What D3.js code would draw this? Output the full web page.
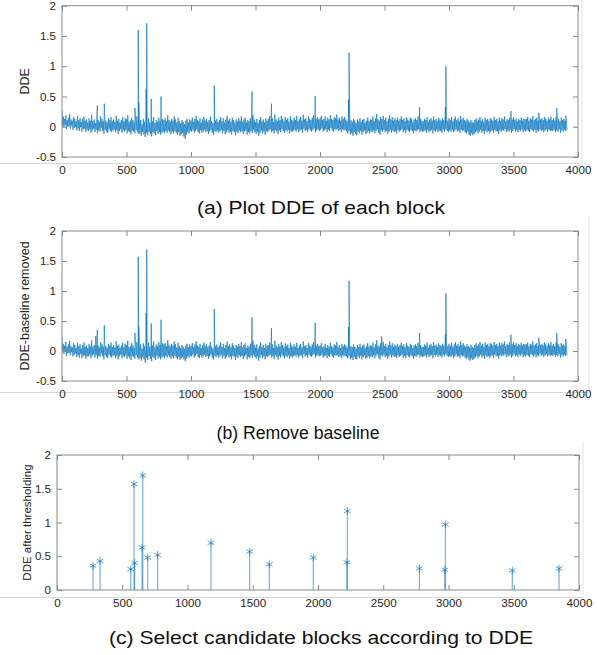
<!DOCTYPE html>
<html><head><meta charset="utf-8">
<script src="https://cdn.jsdelivr.net/npm/d3@7"></script>
<style>body{margin:0;background:#fff} svg{display:block;font-family:"Liberation Sans",Arial,Helvetica,sans-serif}</style>
</head><body><svg id="c" width="597" height="655"></svg>
<script>
// ---------- data ----------
const xTicks = [0, 500, 1000, 1500, 2000, 2500, 3000, 3500, 4000];
const yTicksAB = [-0.5, 0, 0.5, 1, 1.5, 2];
const yTicksC = [0, 0.5, 1, 1.5, 2];
const binStep = 10; // the dense noise is read as a high and a low value per 10 blocks
// panel (a): upper / lower excursions of the noise band per bin
const hiA = [
0.28,0.17,0.13,0.19,0.11,0.15,0.21,0.12,0.10,0.16,0.13,0.09,0.18,0.11,0.14,0.08,0.13,0.17,0.10,0.12,
0.07,0.14,0.10,0.20,0.09,0.12,0.06,0.15,0.11,0.08,0.17,0.13,0.09,0.22,0.10,0.07,0.14,0.11,0.16,0.09,
0.12,0.08,0.18,0.10,0.13,0.07,0.11,0.16,0.09,0.14,0.12,0.19,0.08,0.10,0.15,0.11,0.07,0.13,0.17,0.09,
0.06,0.11,0.04,0.13,0.08,0.05,0.10,0.14,0.07,0.12,0.09,0.16,0.06,0.11,0.08,0.15,0.10,0.07,0.13,0.11,
0.14,0.09,0.19,0.11,0.08,0.13,0.10,0.17,0.12,0.07,0.15,0.09,0.06,0.11,0.08,0.04,0.10,0.13,0.07,0.12,
0.10,0.15,0.08,0.13,0.18,0.11,0.09,0.14,0.07,0.12,0.16,0.10,0.13,0.08,0.11,0.17,0.09,0.06,0.12,0.10,
0.13,0.08,0.11,0.16,0.09,0.14,0.07,0.12,0.18,0.10,0.13,0.08,0.15,0.11,0.07,0.12,0.09,0.14,0.10,0.17,
0.08,0.12,0.15,0.07,0.11,0.09,0.14,0.10,0.19,0.12,0.08,0.13,0.06,0.11,0.16,0.09,0.12,0.07,0.14,0.10,
0.13,0.17,0.10,0.14,0.08,0.20,0.12,0.09,0.15,0.11,0.18,0.13,0.09,0.16,0.11,0.14,0.08,0.17,0.12,0.10,
0.15,0.11,0.18,0.09,0.13,0.16,0.10,0.20,0.12,0.14,0.09,0.17,0.13,0.11,0.15,0.19,0.10,0.13,0.16,0.12,
0.14,0.18,0.11,0.13,0.17,0.10,0.15,0.12,0.19,0.13,0.11,0.16,0.14,0.20,0.12,0.15,0.10,0.17,0.13,0.16,
0.12,0.09,0.15,0.07,0.11,0.08,0.13,0.10,0.06,0.12,0.09,0.14,0.08,0.11,0.13,0.07,0.10,0.15,0.09,0.12,
0.11,0.17,0.09,0.14,0.21,0.12,0.10,0.16,0.13,0.18,0.11,0.15,0.09,0.13,0.19,0.12,0.16,0.10,0.14,0.11,
0.15,0.10,0.13,0.17,0.11,0.14,0.09,0.16,0.12,0.10,0.15,0.13,0.08,0.12,0.14,0.11,0.17,0.09,0.13,0.10,
0.09,0.13,0.11,0.16,0.08,0.12,0.14,0.10,0.17,0.11,0.13,0.09,0.15,0.12,0.10,0.14,0.11,0.18,0.12,0.10,
0.14,0.11,0.16,0.09,0.13,0.17,0.11,0.14,0.10,0.18,0.12,0.15,0.11,0.09,0.13,0.10,0.07,0.11,0.08,0.06,
0.11,0.14,0.09,0.12,0.16,0.10,0.13,0.08,0.15,0.11,0.13,0.09,0.14,0.12,0.10,0.16,0.11,0.13,0.09,0.15,
0.10,0.14,0.12,0.17,0.09,0.13,0.11,0.15,0.10,0.12,0.16,0.11,0.14,0.09,0.13,0.11,0.15,0.10,0.13,0.12,
0.13,0.16,0.10,0.14,0.12,0.18,0.11,0.13,0.15,0.10,0.17,0.12,0.14,0.11,0.16,0.13,0.10,0.15,0.12,0.17,
0.11,0.14,0.10,0.16,0.12,0.13,0.09,0.15,0.11,0.13,0.10,0.12
];
const loA = [
0.02,-0.01,0.03,-0.04,0.00,0.01,-0.03,0.02,-0.05,-0.02,0.00,-0.06,-0.03,-0.07,-0.01,-0.08,-0.04,-0.03,-0.09,-0.05,
-0.07,-0.04,-0.10,-0.06,-0.03,-0.09,-0.05,-0.11,-0.06,-0.08,-0.02,-0.07,-0.12,-0.05,-0.08,-0.10,-0.04,-0.07,-0.09,-0.06,
-0.05,-0.09,-0.06,-0.12,-0.07,-0.04,-0.10,-0.06,-0.08,-0.05,-0.11,-0.07,-0.09,-0.13,-0.06,-0.08,-0.11,-0.05,-0.09,-0.12,
-0.11,-0.15,-0.09,-0.13,-0.17,-0.10,-0.14,-0.08,-0.12,-0.16,-0.09,-0.11,-0.14,-0.07,-0.12,-0.09,-0.13,-0.10,-0.08,-0.11,
-0.07,-0.10,-0.06,-0.09,-0.12,-0.08,-0.11,-0.07,-0.10,-0.13,-0.09,-0.15,-0.12,-0.10,-0.16,-0.20,-0.13,-0.09,-0.11,-0.07,
-0.08,-0.05,-0.10,-0.07,-0.04,-0.09,-0.11,-0.06,-0.10,-0.08,-0.05,-0.09,-0.07,-0.12,-0.08,-0.05,-0.10,-0.13,-0.07,-0.09,
-0.06,-0.10,-0.08,-0.05,-0.11,-0.07,-0.12,-0.09,-0.06,-0.10,-0.08,-0.13,-0.07,-0.09,-0.14,-0.08,-0.11,-0.06,-0.09,-0.07,
-0.12,-0.08,-0.06,-0.13,-0.09,-0.11,-0.07,-0.10,-0.05,-0.09,-0.12,-0.08,-0.15,-0.10,-0.06,-0.11,-0.08,-0.13,-0.07,-0.09,
-0.06,-0.04,-0.09,-0.07,-0.11,-0.05,-0.08,-0.12,-0.06,-0.09,-0.04,-0.07,-0.10,-0.06,-0.08,-0.05,-0.11,-0.07,-0.09,-0.06,
-0.05,-0.08,-0.04,-0.09,-0.06,-0.05,-0.10,-0.03,-0.07,-0.05,-0.09,-0.04,-0.06,-0.08,-0.05,-0.03,-0.09,-0.06,-0.04,-0.07,
-0.05,-0.03,-0.08,-0.06,-0.04,-0.09,-0.05,-0.07,-0.02,-0.06,-0.08,-0.04,-0.05,-0.03,-0.07,-0.05,-0.09,-0.04,-0.06,-0.05,
-0.08,-0.11,-0.07,-0.13,-0.10,-0.15,-0.09,-0.12,-0.14,-0.08,-0.11,-0.07,-0.13,-0.09,-0.06,-0.12,-0.10,-0.07,-0.11,-0.08,
-0.09,-0.06,-0.11,-0.07,-0.04,-0.10,-0.13,-0.06,-0.08,-0.05,-0.09,-0.07,-0.12,-0.08,-0.05,-0.10,-0.06,-0.09,-0.07,-0.11,
-0.05,-0.08,-0.06,-0.04,-0.09,-0.06,-0.10,-0.05,-0.07,-0.09,-0.05,-0.07,-0.11,-0.06,-0.08,-0.05,-0.04,-0.09,-0.06,-0.08,
-0.08,-0.06,-0.10,-0.05,-0.09,-0.07,-0.05,-0.11,-0.06,-0.08,-0.05,-0.09,-0.06,-0.07,-0.10,-0.05,-0.08,-0.04,-0.07,-0.09,
-0.06,-0.08,-0.05,-0.09,-0.07,-0.04,-0.08,-0.06,-0.10,-0.05,-0.07,-0.06,-0.09,-0.11,-0.08,-0.13,-0.15,-0.11,-0.14,-0.12,
-0.09,-0.07,-0.11,-0.08,-0.05,-0.10,-0.07,-0.12,-0.06,-0.09,-0.07,-0.11,-0.08,-0.06,-0.10,-0.05,-0.08,-0.07,-0.12,-0.06,
-0.08,-0.05,-0.07,-0.04,-0.09,-0.06,-0.08,-0.05,-0.10,-0.07,-0.04,-0.08,-0.06,-0.09,-0.05,-0.07,-0.04,-0.09,-0.06,-0.08,
-0.05,-0.07,-0.09,-0.04,-0.06,-0.08,-0.05,-0.10,-0.06,-0.08,-0.04,-0.07,-0.05,-0.09,-0.06,-0.04,-0.08,-0.05,-0.07,-0.06,
-0.07,-0.05,-0.09,-0.06,-0.08,-0.04,-0.10,-0.06,-0.08,-0.05,-0.07,-0.06
];
// panel (b): baseline removed
const hiB = [
0.24,0.12,0.09,0.15,0.07,0.11,0.17,0.08,0.06,0.13,0.10,0.05,0.14,0.08,0.11,0.04,0.10,0.14,0.07,0.09,
0.05,0.12,0.08,0.18,0.07,0.10,0.04,0.13,0.09,0.06,0.15,0.11,0.07,0.20,0.08,0.05,0.12,0.09,0.14,0.07,
0.10,0.06,0.16,0.08,0.11,0.05,0.09,0.14,0.07,0.12,0.10,0.17,0.06,0.08,0.13,0.09,0.05,0.11,0.15,0.07,
0.06,0.11,0.04,0.13,0.08,0.05,0.10,0.14,0.07,0.12,0.09,0.16,0.06,0.11,0.08,0.15,0.10,0.07,0.13,0.11,
0.13,0.08,0.18,0.10,0.07,0.12,0.09,0.16,0.11,0.06,0.14,0.08,0.05,0.10,0.07,0.04,0.09,0.12,0.06,0.11,
0.08,0.13,0.06,0.11,0.16,0.09,0.07,0.12,0.05,0.10,0.14,0.08,0.11,0.06,0.09,0.15,0.07,0.04,0.10,0.08,
0.11,0.06,0.09,0.14,0.07,0.12,0.05,0.10,0.16,0.08,0.11,0.06,0.13,0.09,0.05,0.10,0.07,0.12,0.08,0.15,
0.06,0.10,0.13,0.05,0.09,0.07,0.12,0.08,0.17,0.10,0.06,0.11,0.04,0.09,0.14,0.07,0.10,0.05,0.12,0.08,
0.10,0.14,0.07,0.11,0.05,0.17,0.09,0.06,0.12,0.08,0.15,0.10,0.06,0.13,0.08,0.11,0.05,0.14,0.09,0.07,
0.11,0.07,0.14,0.05,0.09,0.12,0.06,0.16,0.08,0.10,0.05,0.13,0.09,0.07,0.11,0.15,0.06,0.09,0.12,0.08,
0.09,0.13,0.06,0.08,0.12,0.05,0.10,0.07,0.14,0.08,0.06,0.11,0.09,0.15,0.07,0.10,0.05,0.12,0.08,0.11,
0.09,0.06,0.12,0.05,0.08,0.06,0.11,0.07,0.04,0.10,0.07,0.12,0.06,0.09,0.11,0.05,0.08,0.13,0.07,0.10,
0.08,0.14,0.06,0.11,0.18,0.09,0.07,0.13,0.10,0.15,0.08,0.12,0.06,0.10,0.16,0.09,0.13,0.07,0.11,0.08,
0.12,0.07,0.10,0.14,0.08,0.11,0.06,0.13,0.09,0.07,0.12,0.10,0.05,0.09,0.11,0.08,0.14,0.06,0.10,0.07,
0.07,0.11,0.09,0.14,0.06,0.10,0.12,0.08,0.15,0.09,0.11,0.07,0.13,0.10,0.08,0.12,0.09,0.16,0.10,0.08,
0.12,0.09,0.14,0.07,0.11,0.15,0.09,0.12,0.08,0.16,0.10,0.13,0.09,0.07,0.11,0.08,0.06,0.10,0.07,0.05,
0.10,0.13,0.08,0.11,0.15,0.09,0.12,0.07,0.14,0.10,0.12,0.08,0.13,0.11,0.09,0.15,0.10,0.12,0.08,0.14,
0.09,0.13,0.11,0.16,0.08,0.12,0.10,0.14,0.09,0.11,0.15,0.10,0.13,0.08,0.12,0.10,0.14,0.09,0.12,0.11,
0.11,0.14,0.08,0.12,0.10,0.16,0.09,0.11,0.13,0.08,0.15,0.10,0.12,0.09,0.14,0.11,0.08,0.13,0.10,0.15,
0.09,0.12,0.08,0.14,0.10,0.11,0.07,0.13,0.09,0.11,0.08,0.10
];
const loB = [
0.01,-0.05,-0.01,-0.08,-0.04,-0.03,-0.07,-0.02,-0.09,-0.06,-0.04,-0.10,-0.07,-0.11,-0.05,-0.12,-0.08,-0.07,-0.13,-0.09,
-0.09,-0.06,-0.12,-0.08,-0.05,-0.11,-0.07,-0.13,-0.08,-0.10,-0.04,-0.09,-0.14,-0.07,-0.10,-0.12,-0.06,-0.09,-0.11,-0.08,
-0.07,-0.11,-0.08,-0.14,-0.09,-0.06,-0.12,-0.08,-0.10,-0.07,-0.13,-0.09,-0.11,-0.15,-0.08,-0.10,-0.13,-0.07,-0.11,-0.14,
-0.12,-0.16,-0.10,-0.14,-0.19,-0.11,-0.15,-0.09,-0.13,-0.17,-0.10,-0.12,-0.15,-0.08,-0.13,-0.10,-0.14,-0.11,-0.09,-0.12,
-0.08,-0.11,-0.07,-0.10,-0.13,-0.09,-0.12,-0.08,-0.11,-0.14,-0.10,-0.15,-0.12,-0.10,-0.14,-0.17,-0.13,-0.09,-0.11,-0.08,
-0.09,-0.06,-0.11,-0.08,-0.05,-0.10,-0.12,-0.07,-0.11,-0.09,-0.06,-0.10,-0.08,-0.13,-0.09,-0.06,-0.11,-0.14,-0.08,-0.10,
-0.07,-0.11,-0.09,-0.06,-0.12,-0.08,-0.13,-0.10,-0.07,-0.11,-0.09,-0.14,-0.08,-0.10,-0.15,-0.09,-0.12,-0.07,-0.10,-0.08,
-0.13,-0.09,-0.07,-0.14,-0.10,-0.12,-0.08,-0.11,-0.06,-0.10,-0.13,-0.09,-0.16,-0.11,-0.07,-0.12,-0.09,-0.14,-0.08,-0.10,
-0.08,-0.06,-0.11,-0.09,-0.13,-0.07,-0.10,-0.14,-0.08,-0.11,-0.06,-0.09,-0.12,-0.08,-0.10,-0.07,-0.13,-0.09,-0.11,-0.08,
-0.07,-0.10,-0.06,-0.11,-0.08,-0.07,-0.12,-0.05,-0.09,-0.07,-0.11,-0.06,-0.08,-0.10,-0.07,-0.05,-0.11,-0.08,-0.06,-0.09,
-0.08,-0.06,-0.11,-0.09,-0.07,-0.12,-0.08,-0.10,-0.05,-0.09,-0.11,-0.07,-0.08,-0.06,-0.10,-0.08,-0.12,-0.07,-0.09,-0.08,
-0.09,-0.12,-0.08,-0.14,-0.11,-0.15,-0.10,-0.13,-0.14,-0.09,-0.12,-0.08,-0.14,-0.10,-0.07,-0.13,-0.11,-0.08,-0.12,-0.09,
-0.10,-0.07,-0.12,-0.08,-0.05,-0.11,-0.14,-0.07,-0.09,-0.06,-0.10,-0.08,-0.13,-0.09,-0.06,-0.11,-0.07,-0.10,-0.08,-0.12,
-0.07,-0.10,-0.08,-0.06,-0.11,-0.08,-0.12,-0.07,-0.09,-0.11,-0.07,-0.09,-0.13,-0.08,-0.10,-0.07,-0.06,-0.11,-0.08,-0.10,
-0.09,-0.07,-0.11,-0.06,-0.10,-0.08,-0.06,-0.12,-0.07,-0.09,-0.06,-0.10,-0.07,-0.08,-0.11,-0.06,-0.09,-0.05,-0.08,-0.10,
-0.08,-0.10,-0.07,-0.11,-0.09,-0.06,-0.10,-0.08,-0.12,-0.07,-0.09,-0.08,-0.11,-0.13,-0.10,-0.14,-0.16,-0.12,-0.15,-0.13,
-0.10,-0.08,-0.12,-0.09,-0.06,-0.11,-0.08,-0.13,-0.07,-0.10,-0.08,-0.12,-0.09,-0.07,-0.11,-0.06,-0.09,-0.08,-0.13,-0.07,
-0.09,-0.06,-0.08,-0.05,-0.10,-0.07,-0.09,-0.06,-0.11,-0.08,-0.05,-0.09,-0.07,-0.10,-0.06,-0.08,-0.05,-0.10,-0.07,-0.09,
-0.06,-0.08,-0.10,-0.05,-0.07,-0.09,-0.06,-0.11,-0.07,-0.09,-0.05,-0.08,-0.06,-0.10,-0.07,-0.05,-0.09,-0.06,-0.08,-0.07,
-0.08,-0.06,-0.10,-0.07,-0.09,-0.05,-0.11,-0.07,-0.09,-0.06,-0.08,-0.07
];
// spikes (block index, value) in panel (a)
const spikeXA   = [274, 328, 565, 591, 595, 652, 657, 692, 768, 1180, 1473, 1624, 1963, 2221, 2225, 2772, 2972, 2976, 3480, 3695, 3835, 3905];
const spikeValA = [0.35,0.38,0.31,1.60,0.40,0.63,1.71,0.46,0.50,0.68,0.58,0.38,0.51,0.45,1.22,0.32,0.32,1.00,0.26,0.23,0.31,0.18];
// spikes in panel (b)
const spikeXB   = [262, 274, 328, 565, 591, 595, 652, 657, 692, 768, 1180, 1473, 1624, 1963, 2221, 2225, 2478, 2772, 2972, 2976, 3480, 3695, 3835, 3905];
const spikeValB = [0.25,0.35,0.43,0.30,1.57,0.40,0.63,1.69,0.46,0.52,0.70,0.56,0.38,0.47,0.40,1.17,0.24,0.30,0.28,0.96,0.27,0.22,0.30,0.20];
// candidate blocks after thresholding, panel (c)
const stemX   = [276, 330, 565, 590, 595, 652, 657, 695, 771, 1180, 1476, 1627, 1964, 2221, 2225, 2777, 2972, 2976, 3489, 3847];
const stemVal = [0.36,0.43,0.31,1.57,0.40,0.63,1.70,0.48,0.52,0.70,0.57,0.38,0.48,0.41,1.17,0.32,0.30,0.97,0.29,0.32];
const captions = ["(a) Plot DDE of each block", "(b) Remove baseline", "(c) Select candidate blocks according to DDE"];
const yLabels = ["DDE", "DDE-baseline removed", "DDE after thresholding"];

// ---------- drawing ----------
const svg = d3.select("#c");
const blue = "#0072BD";
const axisGray = "#8a8a8a";
const textCol = "#262626";

function build(hi, lo, sx, sv) {
  const pts = [];
  hi.forEach((v, i) => {
    pts.push({x: i * binStep, y: v});
    pts.push({x: i * binStep + binStep / 2, y: lo[i]});
  });
  sx.forEach((x, i) => pts.push({x: x, y: sv[i]}));
  pts.sort((a, b) => a.x - b.x);
  return pts;
}

const panels = [
  {L:62, R:578, T:5.7, B:157, yDom:[-0.5,2], yT:yTicksAB, frame:{y:163.5, x:582, top:0}, cap:{y:214, w:248, x:321}, lab:{x:25, fs:12.5}},
  {L:62, R:578, T:231, B:381, yDom:[-0.5,2], yT:yTicksAB, frame:{y:392.5, x:589, top:216}, cap:{y:439, w:163, x:298}, lab:{x:25, fs:12.5}},
  {L:57, R:579, T:455, B:590, yDom:[0,2], yT:yTicksC, frame:{y:597.5, x:583, top:441}, cap:{y:644, w:424, x:321}, lab:{x:27, fs:11.5}}
];

panels.forEach((p, k) => {
  const g = svg.append("g");
  g.append("line").attr("x1",0).attr("x2",p.frame.x).attr("y1",p.frame.y).attr("y2",p.frame.y)
    .attr("stroke","#d6d6d6").attr("stroke-width",1);
  g.append("line").attr("x1",p.frame.x).attr("x2",p.frame.x).attr("y1",p.frame.top).attr("y2",p.frame.y)
    .attr("stroke","#e2e2e2").attr("stroke-width",1);

  const x = d3.scaleLinear().domain([0,4000]).range([p.L, p.R]);
  const y = d3.scaleLinear().domain(p.yDom).range([p.B, p.T]);

  const clipId = "clip" + k;
  svg.append("clipPath").attr("id", clipId).append("rect")
    .attr("x", p.L).attr("y", p.T).attr("width", p.R - p.L).attr("height", p.B - p.T);

  if (k < 2) {
    const pts = k === 0 ? build(hiA, loA, spikeXA, spikeValA) : build(hiB, loB, spikeXB, spikeValB);
    g.append("path").datum(pts)
      .attr("clip-path", `url(#${clipId})`)
      .attr("d", d3.line().x(d => x(d.x)).y(d => y(d.y)))
      .attr("fill","none").attr("stroke", blue).attr("stroke-width", 0.65)
      .attr("stroke-linejoin","round");
  } else {
    const st = stemX.map((v, i) => ({x: v, y: stemVal[i]}));
    g.selectAll("line.stem").data(st).join("line").attr("class","stem")
      .attr("x1", d => x(d.x)).attr("x2", d => x(d.x))
      .attr("y1", y(0)).attr("y2", d => y(d.y))
      .attr("stroke", blue).attr("stroke-width", 1.2).attr("stroke-opacity", 0.55);
    g.selectAll("path.mk").data(st).join("path").attr("class","mk")
      .attr("transform", d => `translate(${x(d.x)},${y(d.y)})`)
      .attr("d", d3.symbol(d3.symbolAsterisk, 40)())
      .attr("fill","none").attr("stroke", blue).attr("stroke-width", 1).attr("stroke-opacity", 0.65);
  }

  const fmt = d => String(d);
  const ax = (axis, tx, ty, labels) => {
    const a = g.append("g").attr("transform", `translate(${tx},${ty})`).call(axis);
    a.select(".domain").remove();
    a.selectAll(".tick line").attr("stroke", axisGray).attr("stroke-width", 1);
    a.selectAll(".tick text").attr("fill", textCol).style("font-size", "11.6px")
      .style("font-family", '"Liberation Sans",Arial,Helvetica,sans-serif');
    if (!labels) a.selectAll(".tick text").remove();
    return a;
  };
  ax(d3.axisBottom(x).tickValues(xTicks).tickFormat(fmt).tickSizeInner(-5).tickSizeOuter(0).tickPadding(9), 0, p.B, true);
  ax(d3.axisTop(x).tickValues(xTicks).tickSizeInner(-5).tickSizeOuter(0), 0, p.T, false);
  ax(d3.axisLeft(y).tickValues(p.yT).tickFormat(fmt).tickSizeInner(-5).tickSizeOuter(0).tickPadding(6), p.L, 0, true);
  ax(d3.axisRight(y).tickValues(p.yT).tickSizeInner(-5).tickSizeOuter(0), p.R, 0, false);
  g.append("rect").attr("x", p.L).attr("y", p.T).attr("width", p.R - p.L).attr("height", p.B - p.T)
    .attr("fill","none").attr("stroke", axisGray).attr("stroke-width", 1);

  g.append("text").attr("transform", `translate(${p.lab.x},${(p.T + p.B) / 2}) rotate(-90)`)
    .attr("text-anchor","middle").attr("dy","0.35em").attr("fill", textCol)
    .style("font-size", p.lab.fs + "px").text(yLabels[k]);

  g.append("text").attr("x", p.cap.x).attr("y", p.cap.y).attr("text-anchor","middle")
    .attr("fill", "#111").style("font-size","18px")
    .attr("textLength", p.cap.w).attr("lengthAdjust","spacingAndGlyphs")
    .text(captions[k]);
});
</script>
</body></html>
